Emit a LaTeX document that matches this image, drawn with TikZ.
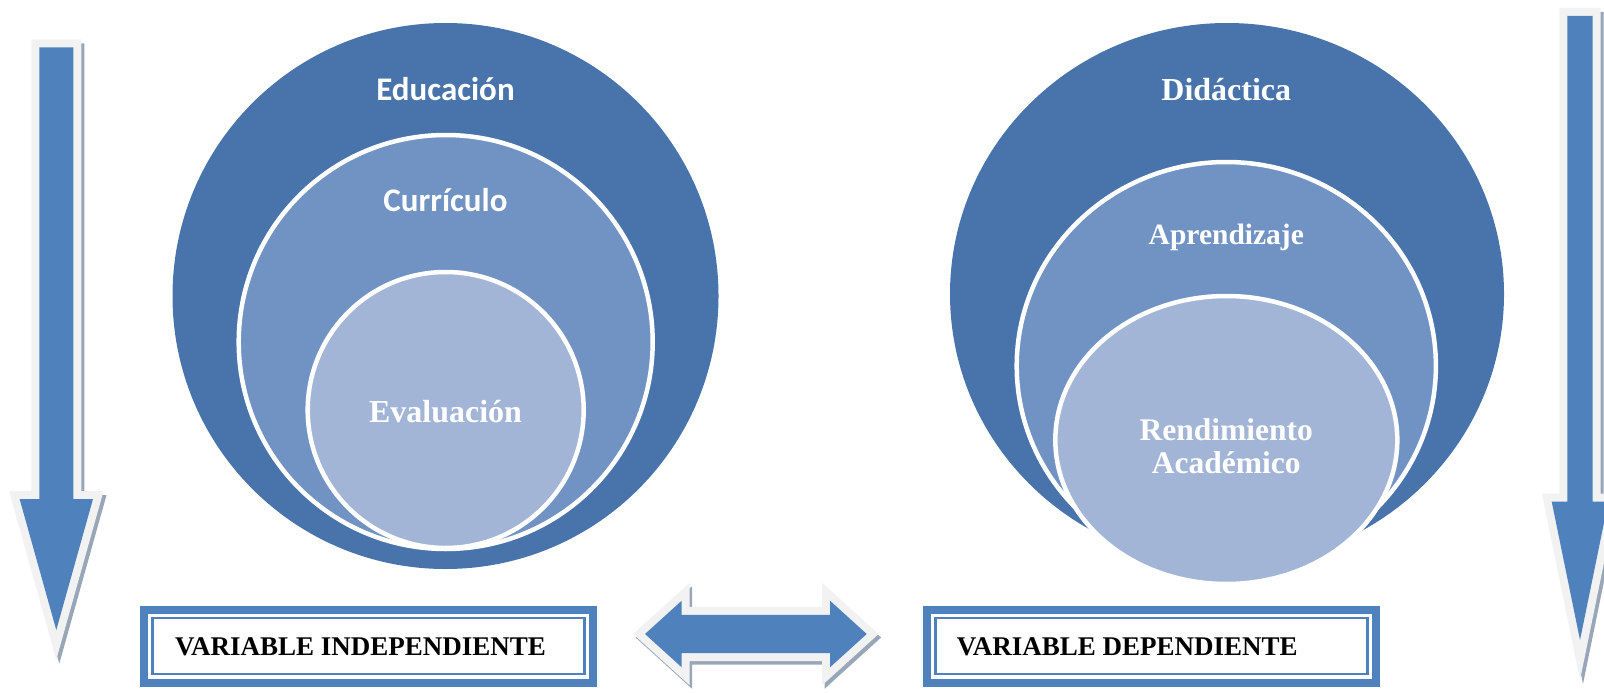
\documentclass[tikz,border=0pt]{standalone}
\usepackage{fontspec}
\setmainfont{Liberation Serif}
\newfontfamily\calibri{Carlito}
\definecolor{outerblue}{HTML}{4874AB}
\definecolor{midblue}{HTML}{7193C3}
\definecolor{innerblue}{HTML}{A3B5D6}
\definecolor{arrowblue}{HTML}{4F81BD}
\definecolor{rim}{HTML}{F2F2F2}
\definecolor{shade}{HTML}{98A6B8}
\begin{document}
\begin{tikzpicture}[x=1bp,y=-1bp,
  rimline/.style={draw=rim,line width=16bp,miter limit=30},
  shadowline/.style={draw=shade,fill=shade,line width=16bp,miter limit=30},
  bluefill/.style={fill=arrowblue},
  ring/.style={draw=white,line width=4.5bp},
  sanslabel/.style={text=white,font=\calibri\bfseries\fontsize{33bp}{36bp}\selectfont,anchor=base,inner sep=0},
  seriflabel/.style={text=white,font=\bfseries\fontsize{32bp}{34bp}\selectfont,anchor=base,inner sep=0,align=center},
  boxlabel/.style={text=black,font=\bfseries\fontsize{27bp}{29bp}\selectfont,anchor=base west,inner sep=0},
  thickframe/.style={draw=arrowblue,line width=8bp},
  thinframe/.style={draw=arrowblue,line width=2.7bp}]
\useasboundingbox (0,0) rectangle (1604,693);
\clip (0,0) rectangle (1604,693);

% ---------- left down arrow ----------
\def\leftarrowpath{(39.3,47.3) -- (73.3,47.3) -- (73.3,499) -- (93,499) -- (56.3,630) -- (19.6,499) -- (39.3,499) -- cycle}
\begin{scope}[shift={(3,4)}]
  \path[shadowline] \leftarrowpath;
\end{scope}
\path[rimline] \leftarrowpath;
\path[bluefill] \leftarrowpath;

% ---------- right down arrow ----------
\def\rightarrowpath{(1567.3,16) -- (1592.7,16) -- (1592.7,501.7) -- (1608.3,501.7) -- (1580,640) -- (1551.7,501.7) -- (1567.3,501.7) -- cycle}
\begin{scope}[shift={(3,4)}]
  \path[shadowline] \rightarrowpath;
\end{scope}
\path[rimline] \rightarrowpath;
\path[bluefill] \rightarrowpath;

% ---------- double arrow ----------
\def\dblarrowpath{(645,634) -- (681.7,600.7) -- (681.7,614.8) -- (830,614.8) -- (830,600.7) -- (866.7,634) -- (830,667.3) -- (830,653.2) -- (681.7,653.2) -- (681.7,667.3) -- cycle}
\begin{scope}[shift={(2.5,3.5)}]
  \path[shadowline] \dblarrowpath;
\end{scope}
\path[rimline] \dblarrowpath;
\path[bluefill] \dblarrowpath;

% ---------- left circles ----------
\fill[outerblue] (445.5,296) circle[radius=273];
\path[ring,fill=midblue] (445.7,342) circle[radius=207];
\path[ring,fill=innerblue] (445.7,410) circle[radius=138];
\node[sanslabel] (educ) at (445.5,101) {Educación};
\node[sanslabel] (curr) at (445.5,211) {Currículo};
\node[seriflabel] (eval) at (445.5,422.5) {Evaluación};

% ---------- right circles ----------
\fill[outerblue] (1227,294) ellipse[x radius=277,y radius=271];
\path[ring,fill=midblue] (1226.3,366) ellipse[x radius=209.6,y radius=204];
\path[ring,fill=innerblue] (1226.3,440) ellipse[x radius=171,y radius=144];
\node[seriflabel] (dida) at (1226.3,101) {Didáctica};
\node[seriflabel,font=\bfseries\fontsize{29.5bp}{32bp}\selectfont] (apre) at (1226.3,244) {Aprendizaje};
\node[seriflabel,font=\bfseries\fontsize{31.5bp}{32bp}\selectfont] (rend) at (1226.3,440) {Rendimiento};
\node[seriflabel,font=\bfseries\fontsize{31.5bp}{32bp}\selectfont] (acad) at (1226.3,473) {Académico};

% ---------- boxes ----------
\draw[thickframe] (144,610) rectangle (593,682.7);
\draw[thinframe] (152.5,618) rectangle (584.5,674);
\node[boxlabel] (vind) at (175,655) {VARIABLE INDEPENDIENTE};

\draw[thickframe] (927.3,610) rectangle (1376,682.7);
\draw[thinframe] (935.8,618) rectangle (1367.5,674);
\node[boxlabel] (vdep) at (956.7,655.5) {VARIABLE DEPENDIENTE};
\end{tikzpicture}
\end{document}
